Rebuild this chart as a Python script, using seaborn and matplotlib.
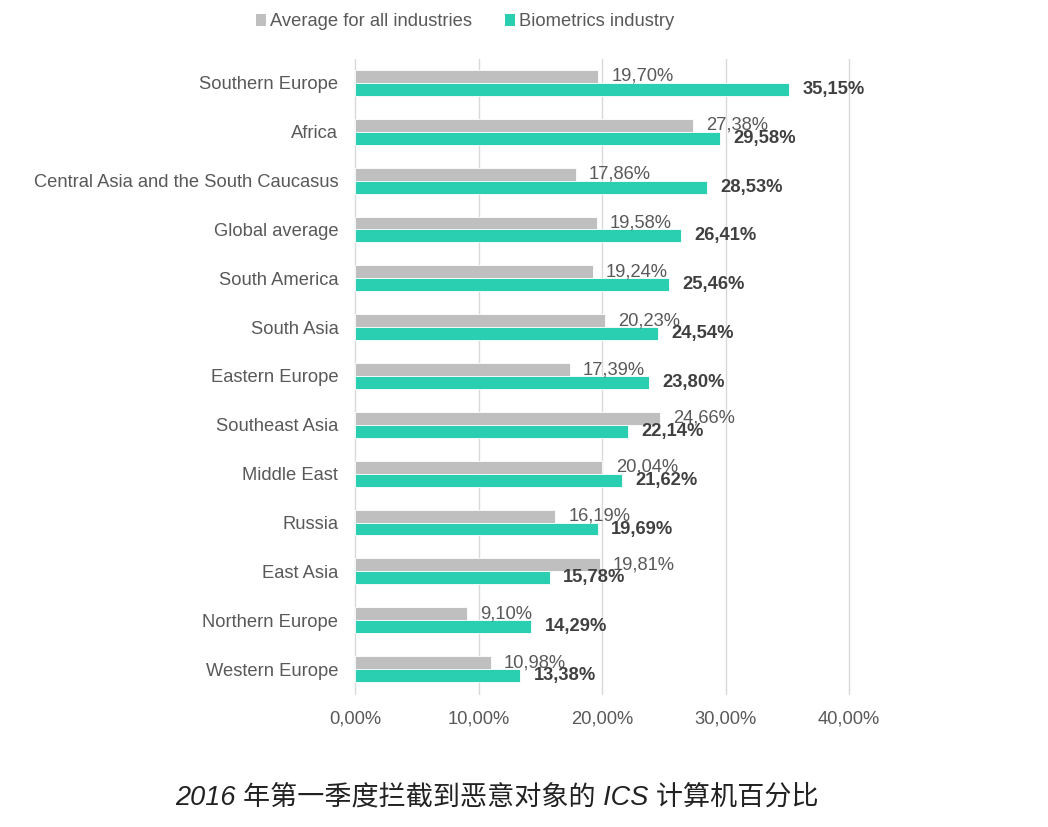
import matplotlib
matplotlib.use("Agg")
import matplotlib.pyplot as plt
import seaborn as sns
import pandas as pd
from matplotlib.ticker import FuncFormatter
from matplotlib.patches import Patch

regions = ["Southern Europe", "Africa", "Central Asia and the South Caucasus",
           "Global average", "South America", "South Asia", "Eastern Europe",
           "Southeast Asia", "Middle East", "Russia", "East Asia",
           "Northern Europe", "Western Europe"]
avg_all = [19.70, 27.38, 17.86, 19.58, 19.24, 20.23, 17.39, 24.66, 20.04,
           16.19, 19.81, 9.10, 10.98]
biometrics = [35.15, 29.58, 28.53, 26.41, 25.46, 24.54, 23.80, 22.14, 21.62,
              19.69, 15.78, 14.29, 13.38]
series_names = ["Average for all industries", "Biometrics industry"]
xticks = [0, 10, 20, 30, 40]
title = "2016 年第一季度拦截到恶意对象的 ICS 计算机百分比"

colors = ["#BFBFBF", "#2ACFB2"]

df = pd.DataFrame({
    "region": regions * 2,
    "value": avg_all + biometrics,
    "series": [series_names[0]] * len(regions) + [series_names[1]] * len(regions),
})

sns.set_theme(style="white")
plt.rcParams['font.family'] = ['Liberation Sans', 'Noto Sans CJK SC', 'DejaVu Sans']

fig = plt.figure(figsize=(10.48, 8.27), dpi=100)
ax = fig.add_axes([355 / 1048, 1 - 693.5 / 827, (849 - 355) / 1048, (693.5 - 58.5) / 827])

sns.barplot(data=df, y="region", x="value", hue="series", order=regions,
            hue_order=series_names, palette=colors, orient="h", width=0.53,
            dodge=True, ax=ax, legend=False, edgecolor="white", linewidth=0.6,
            saturation=1)

fmt = lambda v: f"{v:.2f}%".replace(".", ",")
ax.bar_label(ax.containers[0], labels=[fmt(v) for v in avg_all], padding=9.5,
             fontsize=13.2, color="#595959")
ax.bar_label(ax.containers[1], labels=[fmt(v) for v in biometrics], padding=9.5,
             fontsize=13.2, color="#404040", fontweight="bold")

ax.set_xlim(0, 40)
ax.set_xticks(xticks)
ax.xaxis.set_major_formatter(FuncFormatter(lambda v, p: f"{v:.2f}%".replace(".", ",")))
ax.grid(axis="x", color="#D9D9D9", linewidth=1)
for gl in ax.get_xgridlines():
    gl.set_clip_on(False)
ax.set_axisbelow(True)
for s in ax.spines.values():
    s.set_visible(False)
ax.set_xlabel("")
ax.set_ylabel("")
ax.tick_params(axis="both", length=0, labelsize=13.2, labelcolor="#595959")
ax.tick_params(axis="y", pad=12)
ax.tick_params(axis="x", pad=12)

handles = [Patch(facecolor=c, edgecolor="none") for c in colors]
fig.legend(handles, series_names, loc="center", bbox_to_anchor=(465 / 1048, 1 - 22 / 827),
           ncol=2, frameon=False, fontsize=13.2, handlelength=0.55, handleheight=0.55,
           handletextpad=0.2, columnspacing=1.8, labelcolor="#595959")

fig.text(497 / 1048, 1 - 797 / 827, title, ha="center", va="center", fontsize=19.5,
         style="italic", fontweight="light", color="#222222",
         family=['Liberation Sans', 'Noto Sans CJK SC', 'DejaVu Sans'])

fig.savefig("out.png", dpi=100, facecolor="white")
